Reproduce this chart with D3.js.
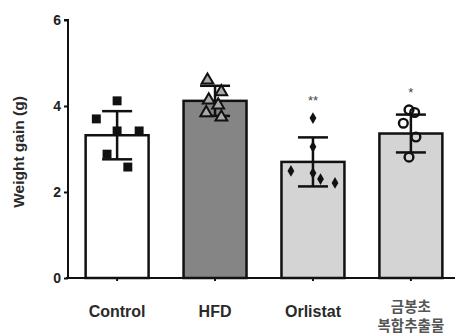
<!DOCTYPE html>
<html><head><meta charset="utf-8">
<script src="https://cdn.jsdelivr.net/npm/d3@7"></script>
<style>body{margin:0;background:#fff}svg{display:block}</style>
</head><body>
<script>
const categories = ["Control", "HFD", "Orlistat", "금봉초\n복합추출물"];
const means = [3.32, 4.12, 2.70, 3.36];
const sds = [0.56, 0.35, 0.57, 0.44];
const points = [
  [4.12, 3.70, 3.42, 3.42, 2.88, 2.58],
  [4.60, 4.33, 4.14, 3.84, 3.74, 4.02],
  [3.72, 3.05, 2.49, 2.44, 2.21, 2.30],
  [3.91, 3.85, 3.60, 3.28, 2.81]
];
const pointOffsets = [
  [0, -0.33, 0, 0.35, -0.16, 0.17],
  [-0.12, 0.1, -0.1, -0.14, 0.1, 0.05],
  [0, 0, -0.35, 0, 0.35, 0.12],
  [-0.03, 0.06, -0.12, 0.08, -0.03]
];
const stars = ["", "", "**", "*"];
const yTicks = [0, 2, 4, 6];
const fills = ["#ffffff", "#858585", "#d4d4d4", "#d4d4d4"];
const shapes = ["square", "triangle", "diamond", "circle"];

const W = 456, H = 336;
const FONT = "Liberation Sans, Arial, sans-serif";
const svg = d3.select("body").append("svg").attr("width", W).attr("height", H);
const y = d3.scaleLinear().domain([0, 6]).range([278, 20]);
const x = d3.scaleBand().domain(categories).range([68, 460]).paddingInner(0.357).paddingOuter(0.18);
const bw = x.bandwidth();

// bars
svg.selectAll("rect.bar").data(categories).join("rect")
  .attr("x", d => x(d)).attr("y", (d, i) => y(means[i]))
  .attr("width", bw).attr("height", (d, i) => y(0) - y(means[i]))
  .attr("fill", (d, i) => fills[i]).attr("stroke", "#111").attr("stroke-width", 2.5);

// error bars
const eg = svg.append("g").attr("stroke", "#111").attr("stroke-width", 2.5);
categories.forEach((c, i) => {
  const cx = x(c) + bw / 2;
  eg.append("line").attr("x1", cx).attr("x2", cx).attr("y1", y(means[i] + sds[i])).attr("y2", y(means[i] - sds[i]));
  [means[i] + sds[i], means[i] - sds[i]].forEach(v => {
    eg.append("line").attr("x1", cx - 15).attr("x2", cx + 15).attr("y1", y(v)).attr("y2", y(v));
  });
});

// points
const symMap = {square: d3.symbolSquare, triangle: d3.symbolTriangle, diamond: d3.symbolDiamond, circle: d3.symbolCircle};
const sizeMap = {square: 80, triangle: 60, diamond: 40, circle: 60};
categories.forEach((c, i) => {
  const cx = x(c) + bw / 2;
  points[i].forEach((v, j) => {
    const sh = shapes[i];
    const p = svg.append("path")
      .attr("d", d3.symbol().type(symMap[sh]).size(sizeMap[sh])())
      .attr("transform", `translate(${cx + pointOffsets[i][j] * bw},${y(v)})`);
    if (sh === "circle") p.attr("fill", "none").attr("stroke", "#111").attr("stroke-width", 2.4);
    else if (sh === "triangle") p.attr("fill", "#aaa").attr("stroke", "#111").attr("stroke-width", 2);
    else p.attr("fill", "#111");
  });
  if (stars[i]) {
    svg.append("text").attr("x", cx).attr("y", y(d3.max(points[i])) - 20)
      .attr("dy", "0.55em")
      .attr("text-anchor", "middle").attr("font-family", FONT)
      .attr("font-size", 13).attr("fill", "#444").text(stars[i]);
  }
});

// axes
const yAxis = svg.append("g").attr("transform", "translate(68,0)")
  .call(d3.axisLeft(y).tickValues(yTicks).tickSize(4).tickFormat(d3.format("d")));
yAxis.select(".domain").attr("stroke", "#111").attr("stroke-width", 2).attr("d", `M-4,${y(6)}H0V${y(0)}`);
yAxis.selectAll(".tick line").attr("stroke", "#111").attr("stroke-width", 2);
yAxis.selectAll(".tick text").attr("font-family", FONT).attr("font-size", 14)
  .attr("font-weight", "bold").attr("fill", "#222").attr("x", -7);

const xAxis = svg.append("g").attr("transform", `translate(0,${y(0)})`)
  .call(d3.axisBottom(x).tickSize(3).tickFormat(""));
xAxis.select(".domain").attr("stroke", "#111").attr("stroke-width", 2).attr("d", `M66,0H455`);
xAxis.selectAll(".tick line").attr("stroke", "#111").attr("stroke-width", 2);

// x labels
categories.forEach((c, i) => {
  const cx = x(c) + bw / 2;
  const lines = c.split("\n");
  if (lines.length === 1) {
    svg.append("text").attr("x", cx).attr("y", 317).attr("text-anchor", "middle")
      .attr("font-family", FONT).attr("font-size", 16).attr("font-weight", "bold")
      .attr("fill", "#2a2a2a").text(c);
  } else {
    lines.forEach((l, k) => {
      svg.append("text").attr("x", cx).attr("y", 312 + k * 19).attr("text-anchor", "middle")
        .attr("font-family", "Noto Sans CJK KR, sans-serif").attr("font-size", 14.5).attr("font-weight", "bold")
        .attr("fill", "#555").text(l);
    });
  }
});

// y label
svg.append("text").attr("transform", `translate(24,152) rotate(-90)`).attr("text-anchor", "middle")
  .attr("font-family", FONT).attr("font-size", 15.5).attr("font-weight", "bold")
  .attr("fill", "#2a2a2a").text("Weight gain (g)");
</script>
</body></html>
